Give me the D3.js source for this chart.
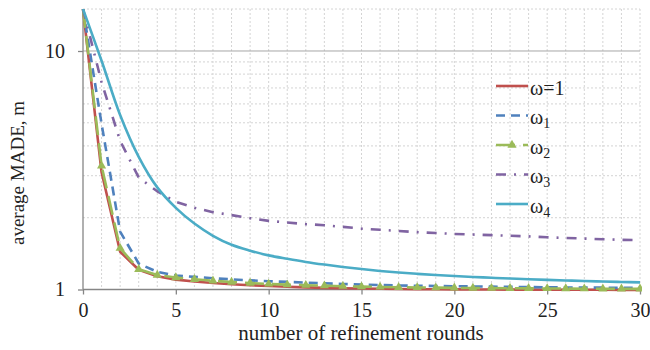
<!DOCTYPE html>
<html>
<head>
<meta charset="utf-8">
<script src="https://cdn.jsdelivr.net/npm/d3@7"></script>
<style>
body { margin: 0; background: #fff; }
svg { display: block; font-family: "Liberation Serif", "Times New Roman", serif; }
</style>
</head>
<body>
<svg id="chart" width="650" height="350"></svg>
<script>
const rounds = d3.range(0, 31);
const omega1 = [15, 3.1, 1.44, 1.21, 1.137, 1.10, 1.08, 1.065, 1.052, 1.042, 1.034, 1.027, 1.021, 1.016, 1.012, 1.009, 1.007, 1.005, 1.003, 1.002, 1.001, 1.0, 1.0, 0.999, 0.999, 0.998, 0.998, 0.997, 0.997, 0.996, 0.996];
const omegaA = [15, 4.95, 1.75, 1.285, 1.185, 1.145, 1.13, 1.115, 1.103, 1.092, 1.083, 1.076, 1.069, 1.062, 1.055, 1.048, 1.044, 1.04, 1.037, 1.034, 1.032, 1.030, 1.028, 1.026, 1.024, 1.022, 1.020, 1.019, 1.018, 1.017, 1.016];
const omegaB = [15, 3.3, 1.49, 1.215, 1.15, 1.122, 1.104, 1.088, 1.075, 1.064, 1.055, 1.048, 1.042, 1.037, 1.032, 1.028, 1.025, 1.022, 1.02, 1.018, 1.016, 1.014, 1.013, 1.012, 1.011, 1.01, 1.009, 1.008, 1.007, 1.006, 1.006];
const omegaC = [15, 7.4, 4.2, 2.95, 2.58, 2.33, 2.2, 2.11, 2.05, 1.99, 1.94, 1.91, 1.88, 1.86, 1.83, 1.80, 1.78, 1.76, 1.74, 1.725, 1.71, 1.70, 1.69, 1.68, 1.67, 1.655, 1.645, 1.635, 1.625, 1.615, 1.61];
const omegaD = [15, 9.1, 5.39, 3.6, 2.68, 2.2, 1.89, 1.68, 1.54, 1.455, 1.39, 1.345, 1.305, 1.272, 1.243, 1.218, 1.196, 1.178, 1.163, 1.15, 1.139, 1.129, 1.12, 1.112, 1.104, 1.097, 1.091, 1.085, 1.08, 1.075, 1.071];
const xTicks = [0, 5, 10, 15, 20, 25, 30];
const yTicks = [1, 10];
const yMinor = [2, 3, 4, 5, 6, 7, 8, 9];

const series = [
  { name: "ω=1", sub: null, values: omega1, color: "#c0504d", dash: null, marker: false },
  { name: "ω", sub: "1", values: omegaA, color: "#4f81bd", dash: "9,6", marker: false },
  { name: "ω", sub: "2", values: omegaB, color: "#9bbb59", dash: "19,8", marker: true },
  { name: "ω", sub: "3", values: omegaC, color: "#8064a2", dash: "10,8,2,8", marker: false },
  { name: "ω", sub: "4", values: omegaD, color: "#4bacc6", dash: null, marker: false, smooth: true }
];

const svg = d3.select("#chart");
const mLeft = 83, mRight = 640, mTop = 9, mBottom = 289.5;
const x = d3.scaleLinear().domain([0, 30]).range([mLeft, mRight]);
const y = d3.scaleLog().domain([1, 15]).range([mBottom, mTop]);

// grid
const grid = svg.append("g");
grid.selectAll("line.v").data(d3.range(1, 31)).join("line")
  .attr("x1", d => x(d)).attr("x2", d => x(d))
  .attr("y1", mTop).attr("y2", mBottom)
  .attr("stroke", "#d4d4d4").attr("stroke-width", 1).attr("stroke-dasharray", "2,2");
grid.selectAll("line.h").data(yMinor.concat([15])).join("line")
  .attr("x1", mLeft).attr("x2", mRight)
  .attr("y1", d => y(d)).attr("y2", d => y(d))
  .attr("stroke", "#d4d4d4").attr("stroke-width", 1).attr("stroke-dasharray", "2,2");
grid.append("line")
  .attr("x1", mLeft).attr("x2", mRight).attr("y1", y(10)).attr("y2", y(10))
  .attr("stroke", "#a6a6a6").attr("stroke-width", 1);

// axes
const xAxis = d3.axisBottom(x).tickValues(xTicks).tickSize(5).tickPadding(8).tickFormat(d3.format("d"));
const yAxis = d3.axisLeft(y).tickValues(yTicks).tickSize(5).tickPadding(13).tickFormat(d3.format("d"));
const gx = svg.append("g").attr("transform", `translate(0,${mBottom})`).call(xAxis);
const gy = svg.append("g").attr("transform", `translate(${mLeft},0)`).call(yAxis);
[gx, gy].forEach(g => {
  g.select(".domain").attr("stroke", "#868686").attr("stroke-width", 1.3);
  g.selectAll(".tick line").attr("stroke", "#868686").attr("stroke-width", 1.3);
  g.selectAll(".tick text").attr("fill", "#222").style("font-family", "Liberation Serif").style("font-size", "20px");
});
gx.select(".domain").attr("d", `M${mLeft},0H${mRight}`);
gy.select(".domain").attr("d", `M0,${mBottom}V${mTop}`);

// lines
const clipId = "plotclip";
svg.append("clipPath").attr("id", clipId).append("rect")
  .attr("x", mLeft - 2).attr("y", mTop).attr("width", mRight - mLeft + 4).attr("height", mBottom - mTop + 6);
const plot = svg.append("g").attr("clip-path", `url(#${clipId})`);
series.forEach(s => {
  const line = d3.line().x((d, i) => x(rounds[i])).y(d => y(d))
    .curve(s.smooth ? d3.curveCatmullRom.alpha(0.5) : d3.curveLinear);
  plot.append("path").datum(s.values)
    .attr("d", line).attr("fill", "none")
    .attr("stroke", s.color).attr("stroke-width", 2.6)
    .attr("stroke-dasharray", s.dash).attr("stroke-linejoin", "round");
  if (s.marker) {
    plot.selectAll(null).data(s.values.slice(1)).join("path")
      .attr("d", d3.symbol(d3.symbolTriangle, 36))
      .attr("transform", (d, i) => `translate(${x(rounds[i + 1])},${y(d)})`)
      .attr("fill", s.color);
  }
});

// legend
const lg = svg.append("g");
series.forEach((s, i) => {
  const yy = 86 + i * 29.5;
  lg.append("line").attr("x1", 496).attr("x2", 528).attr("y1", yy).attr("y2", yy)
    .attr("stroke", s.color).attr("stroke-width", 2.6).attr("stroke-dasharray", s.dash);
  if (s.marker) {
    lg.append("path").attr("d", d3.symbol(d3.symbolTriangle, 36))
      .attr("transform", `translate(512,${yy})`).attr("fill", s.color);
  }
  const t = lg.append("text").attr("x", 530).attr("y", yy + 8.5)
    .attr("fill", "#222").style("font-size", "20px");
  t.append("tspan").text(s.name);
  if (s.sub) t.append("tspan").attr("dy", 4).style("font-size", "14px").text(s.sub);
});

// titles
svg.append("text").attr("x", 361).attr("y", 340).attr("text-anchor", "middle")
  .attr("fill", "#222").style("font-size", "21px").text("number of refinement rounds");
svg.append("text").attr("transform", "translate(24,173) rotate(-90)").attr("text-anchor", "middle")
  .attr("fill", "#222").style("font-size", "19px").text("average MADE, m");
</script>
</body>
</html>
